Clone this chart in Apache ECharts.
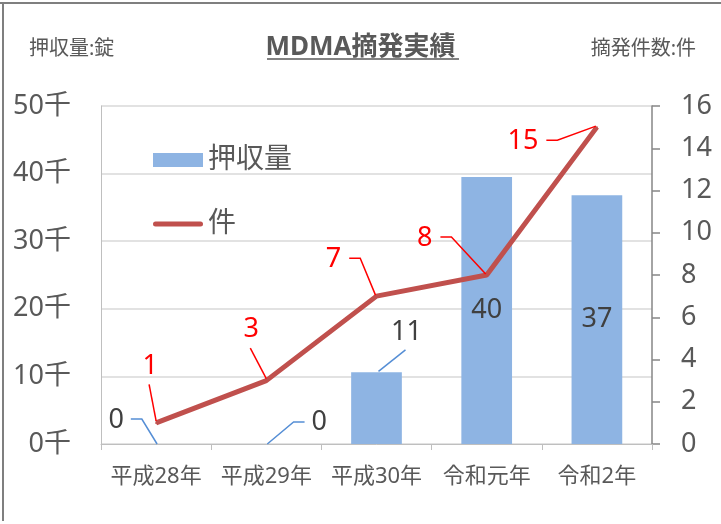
<!DOCTYPE html>
<html>
<head>
<meta charset="utf-8">
<script src="https://cdn.jsdelivr.net/npm/echarts@6/dist/echarts.min.js"></script>
<style>
html, body { margin: 0; padding: 0; background: #fff; }
#container { width: 721px; height: 524px; }
</style>
</head>
<body>
<div id="container"></div>
<script>
var categories = ['平成28年', '平成29年', '平成30年', '令和元年', '令和2年'];
var seizures = [0, 0, 10.6, 39.5, 36.8];   // 押収量（千錠）
var cases = [1, 3, 7, 8, 15];              // 摘発件数
var legendNames = ['押収量', '件'];

var FONT = '"Noto Sans", "Noto Sans CJK JP", sans-serif';
var GRAY = '#595959';

// label offsets from the mark (pixels)
var lineLabelOffsets = [[-6, -57], [-15, -51], [-43, -37], [-62, -37], [-74, 14]];
var lineLabelStub = [false, false, true, true, true];
var barLabelOffsets = [[-40, -24], [53, -22], [30, -40], null, null];

// leader lines collected while labels are laid out
var guides = {};

var dom = document.getElementById('container');
var myChart = echarts.init(dom);

var frame = [
    {id: 'frameTop', type: 'line', shape: {x1: 0, y1: 3, x2: 721, y2: 3}, style: {stroke: '#7f7f7f', lineWidth: 2}},
    {id: 'frameLeft', type: 'line', shape: {x1: 3, y1: 3, x2: 3, y2: 521}, style: {stroke: '#7f7f7f', lineWidth: 2}},
    {id: 'underline', type: 'line', shape: {x1: 267, y1: 59, x2: 459, y2: 59}, style: {stroke: GRAY, lineWidth: 1.5}}
];

var option = {
    backgroundColor: '#fff',
    textStyle: {fontFamily: FONT},
    title: [
        {
            text: 'MDMA摘発実績',
            left: 'center',
            top: 30,
            textStyle: {fontSize: 26, fontWeight: 'bold', color: GRAY, fontFamily: FONT}
        },
        {
            text: '押収量:錠',
            left: 24,
            top: 34,
            textStyle: {fontSize: 20, fontWeight: 'normal', color: GRAY, fontFamily: FONT}
        },
        {
            text: '摘発件数:件',
            right: 20,
            top: 34,
            textStyle: {fontSize: 20, fontWeight: 'normal', color: GRAY, fontFamily: FONT}
        }
    ],
    graphic: frame,
    legend: {
        orient: 'vertical',
        left: 148,
        top: 141,
        itemWidth: 50,
        itemHeight: 14,
        itemGap: 36,
        symbolKeepAspect: true,
        textStyle: {fontSize: 28, color: GRAY, fontFamily: FONT},
        data: [
            {name: legendNames[0], icon: 'rect'},
            {name: legendNames[1], icon: 'path://M2.5,0 L47.5,0 A2.5,2.5 0 0 1 47.5,5 L2.5,5 A2.5,2.5 0 0 1 2.5,0 Z'}
        ]
    },
    grid: {left: 101, right: 69, top: 106, bottom: 80},
    xAxis: {
        type: 'category',
        data: categories,
        axisLine: {lineStyle: {color: '#bfbfbf', width: 1}},
        axisTick: {show: true, length: 6, lineStyle: {color: '#bfbfbf'}},
        axisLabel: {fontSize: 22, color: GRAY, margin: 22, interval: 0}
    },
    yAxis: [
        {
            type: 'value',
            min: 0,
            max: 50,
            interval: 10,
            axisLine: {show: true, lineStyle: {color: '#bfbfbf', width: 1}},
            axisTick: {show: false},
            axisLabel: {fontSize: 27, color: GRAY, margin: 30, formatter: '{value}千'},
            splitLine: {show: true, lineStyle: {color: '#d9d9d9', width: 1.5}}
        },
        {
            type: 'value',
            min: 0,
            max: 16,
            interval: 2,
            position: 'right',
            axisLine: {show: true, lineStyle: {color: '#868686', width: 1.5}},
            axisTick: {show: true, inside: false, length: 8, lineStyle: {color: '#868686', width: 1.5}},
            axisLabel: {fontSize: 27, color: GRAY, margin: 29},
            splitLine: {show: false}
        }
    ],
    series: [
        {
            name: legendNames[0],
            type: 'bar',
            data: seizures,
            barWidth: '46%',
            itemStyle: {color: '#8eb4e3'},
            label: {
                show: true,
                position: 'inside',
                fontSize: 27,
                color: '#404040',
                fontFamily: FONT,
                formatter: function (p) { return Math.round(p.value); }
            },
            labelLayout: function (p) {
                var o = barLabelOffsets[p.dataIndex];
                if (!o) return {};
                var bx = p.rect.x + p.rect.width / 2;
                var by = p.rect.y;
                var lx = bx + o[0], ly = by + o[1];
                var w = p.labelRect.width, h = p.labelRect.height;
                var pts;
                if (p.dataIndex === 0) {
                    pts = [[lx + w / 2 + 7, ly - 1], [lx + w / 2 + 18, ly - 1], [bx + 1, by]];
                } else if (p.dataIndex === 1) {
                    pts = [[lx - w / 2 - 7, ly], [lx - w / 2 - 18, ly], [bx + 1, by]];
                } else {
                    pts = [[lx - 1, ly + h / 2 + 4], [bx + 2, by - 1]];
                }
                guides['bar' + p.dataIndex] = {points: pts, color: '#558ed5'};
                return {x: lx, y: ly, align: 'center', verticalAlign: 'middle'};
            }
        },
        {
            name: legendNames[1],
            type: 'line',
            yAxisIndex: 1,
            data: cases,
            symbol: 'circle',
            symbolSize: 2,
            itemStyle: {color: '#c0504d'},
            lineStyle: {color: '#c0504d', width: 5},
            z: 5,
            label: {
                show: true,
                position: 'top',
                fontSize: 27,
                color: '#ff0000',
                fontFamily: FONT
            },
            labelLayout: function (p) {
                var o = lineLabelOffsets[p.dataIndex];
                var px = p.rect.x + p.rect.width / 2;
                var py = p.rect.y + p.rect.height / 2;
                var lx = px + o[0], ly = py + o[1];
                var w = p.labelRect.width, h = p.labelRect.height;
                var pts;
                if (lineLabelStub[p.dataIndex]) {
                    pts = [[lx + w / 2 + 8, ly - 1], [lx + w / 2 + 19, ly - 1], [px - 1, py - 1]];
                } else {
                    pts = [[lx - 1, ly + h / 2 + 5], [px, py - 2]];
                }
                guides['line' + p.dataIndex] = {points: pts, color: '#ff0000'};
                return {x: lx, y: ly, align: 'center', verticalAlign: 'middle'};
            }
        }
    ]
};

if (option && typeof option === 'object') {
    myChart.setOption(option, true);
    var leaders = [];
    for (var k in guides) {
        leaders.push({
            id: 'guide_' + k,
            type: 'polyline',
            z: 10,
            shape: {points: guides[k].points},
            style: {stroke: guides[k].color, lineWidth: 1.5, fill: null}
        });
    }
    myChart.setOption({graphic: frame.concat(leaders)});
}
</script>
</body>
</html>
